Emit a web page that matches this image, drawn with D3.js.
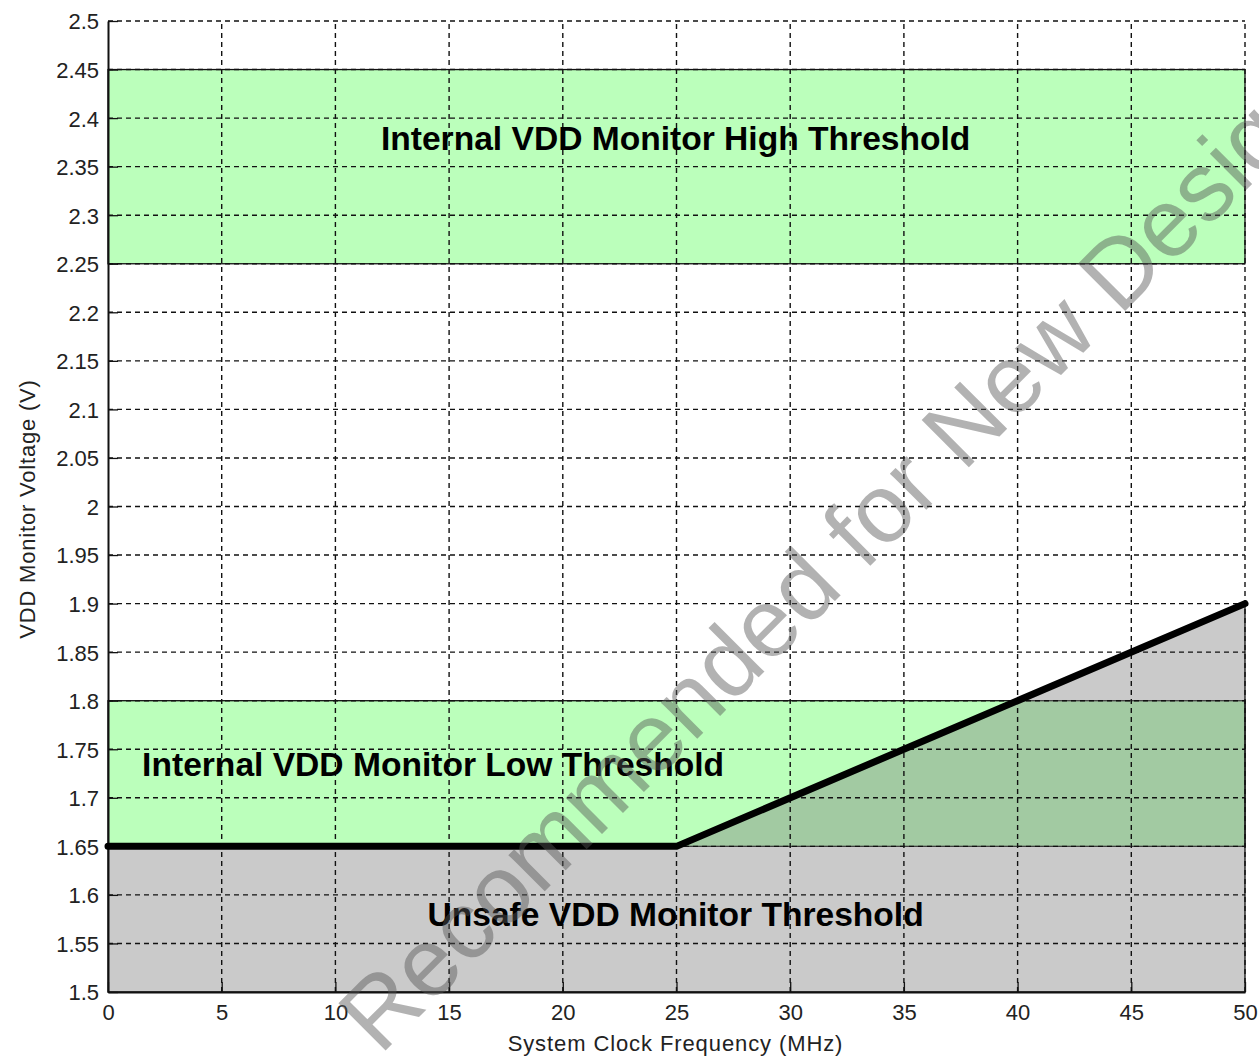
<!DOCTYPE html>
<html>
<head>
<meta charset="utf-8">
<script src="https://cdn.jsdelivr.net/npm/d3@7"></script>
<style>
  html, body { margin: 0; padding: 0; background: #fff; }
  svg { display: block; font-family: "Liberation Sans", Arial, sans-serif; }
</style>
</head>
<body>
<div id="chart"></div>
<script>
'use strict'

// ---- data ----
const xTickValues = [0, 5, 10, 15, 20, 25, 30, 35, 40, 45, 50]
const yTickValues = [1.5, 1.55, 1.6, 1.65, 1.7, 1.75, 1.8, 1.85, 1.9, 1.95, 2, 2.05, 2.1, 2.15, 2.2, 2.25, 2.3, 2.35, 2.4, 2.45, 2.5]
const yTickLabels = ['1.5', '1.55', '1.6', '1.65', '1.7', '1.75', '1.8', '1.85', '1.9', '1.95', '2', '2.05', '2.1', '2.15', '2.2', '2.25', '2.3', '2.35', '2.4', '2.45', '2.5']

// min VDD monitor threshold vs clock
const limitFreq = [0, 25, 50]
const limitVolt = [1.65, 1.65, 1.9]

// green threshold bands
const bandNames = ['Internal VDD Monitor High Threshold', 'Internal VDD Monitor Low Threshold']
const bandLow = [2.25, 1.65]
const bandHigh = [2.45, 1.80]

const unsafeName = 'Unsafe VDD Monitor Threshold'
const watermark = 'Recommended for New Designs'

////////////////////////////////////
//////////// svg setup /////////////
////////////////////////////////////

const svgWidth = 1259
const svgHeight = 1057
const margin = {left: 108, right: 14, top: 21, bottom: 65}

const svg = d3.select('#chart').append('svg')
    .attr('width', svgWidth)
    .attr('height', svgHeight)

const x = d3.scaleLinear().domain([0, 50]).range([margin.left, svgWidth - margin.right])
const y = d3.scaleLinear().domain([1.5, 2.5]).range([svgHeight - margin.bottom, margin.top])

// green bands
svg.selectAll('.band')
    .data(bandNames)
    .enter()
    .append('rect')
    .attr('class', 'band')
    .attr('x', x(0))
    .attr('width', x(50) - x(0))
    .attr('y', (d, i) => y(bandHigh[i]))
    .attr('height', (d, i) => y(bandLow[i]) - y(bandHigh[i]))
    .attr('fill', '#bbffbb')
    .attr('stroke', '#111')
    .attr('stroke-width', 1.3)

// unsafe region under the limit line (translucent grey so the green shows through)
const areaPts = limitFreq.map((f, i) => [f, limitVolt[i]])
const unsafe = d3.area()
    .x(d => x(d[0]))
    .y0(y(1.5))
    .y1(d => y(d[1]))
svg.append('path')
    .attr('d', unsafe(areaPts))
    .attr('fill', '#808080')
    .attr('fill-opacity', 0.42)
    .attr('stroke', '#111')
    .attr('stroke-width', 1.3)

// grid
const grid = svg.append('g').attr('class', 'grid')
grid.selectAll('.vgrid')
    .data(xTickValues.filter(v => v > 0))
    .enter().append('line')
    .attr('x1', d => x(d)).attr('x2', d => x(d))
    .attr('y1', y(1.5)).attr('y2', y(2.5))
    .attr('stroke', '#111').attr('stroke-width', 1.4)
    .attr('stroke-dasharray', '5,4')
grid.selectAll('.hgrid')
    .data(yTickValues.filter(v => v > 1.5))
    .enter().append('line')
    .attr('x1', x(0)).attr('x2', x(50))
    .attr('y1', d => y(d)).attr('y2', d => y(d))
    .attr('stroke', '#111').attr('stroke-width', 1.4)
    .attr('stroke-dasharray', '5,4')

// axes
const xAxis = svg.append('g')
    .attr('transform', `translate(0,${y(1.5)})`)
    .call(d3.axisBottom(x).tickValues(xTickValues).tickSizeInner(-10).tickSizeOuter(0).tickPadding(12))
const yAxis = svg.append('g')
    .attr('transform', `translate(${x(0)},0)`)
    .call(d3.axisLeft(y).tickValues(yTickValues).tickFormat((d, i) => yTickLabels[i]).tickSizeInner(-10).tickSizeOuter(0).tickPadding(9))

;[xAxis, yAxis].forEach(a => {
    a.select('.domain').attr('stroke', '#111').attr('stroke-width', 2)
    a.selectAll('.tick line').attr('stroke', '#111').attr('stroke-width', 1.3)
    a.selectAll('.tick text')
        .attr('fill', '#222')
        .style('font-size', '22px')
        .style('font-family', '"Liberation Sans", Arial, sans-serif')
})
yAxis.selectAll('.tick text').attr('dy', '0.36em')

// axis titles
svg.append('text')
    .attr('x', x(25) - 1)
    .attr('y', 1051)
    .attr('text-anchor', 'middle')
    .attr('fill', '#222')
    .style('font-size', '22px')
    .style('letter-spacing', '0.9px')
    .text('System Clock Frequency (MHz)')

svg.append('text')
    .attr('transform', 'translate(35,509) rotate(-90)')
    .attr('text-anchor', 'middle')
    .attr('fill', '#222')
    .style('font-size', '22px')
    .style('letter-spacing', '0.8px')
    .text('VDD Monitor Voltage (V)')

// region labels
const labelX = [12.0, 1.5]
const labelY = [2.38, 1.735]
svg.selectAll('.band-label')
    .data(bandNames)
    .enter().append('text')
    .attr('class', 'band-label')
    .attr('x', (d, i) => x(labelX[i]))
    .attr('y', (d, i) => y(labelY[i]))
    .attr('dy', '0.36em')
    .attr('fill', '#000')
    .style('font-size', '33.6px')
    .style('font-weight', 'bold')
    .text(d => d)

svg.append('text')
    .attr('x', x(14.05))
    .attr('y', y(1.58))
    .attr('dy', '0.36em')
    .attr('fill', '#000')
    .style('font-size', '33.6px')
    .style('font-weight', 'bold')
    .text(unsafeName)

// limit line
svg.append('path')
    .attr('d', d3.line().x(d => x(d[0])).y(d => y(d[1]))(areaPts))
    .attr('fill', 'none')
    .attr('stroke', '#000')
    .attr('stroke-width', 7)
    .attr('stroke-linecap', 'round')
    .attr('stroke-linejoin', 'round')

// watermark
svg.append('text')
    .attr('transform', 'translate(380,1056) rotate(-45)')
    .attr('fill', '#555')
    .attr('fill-opacity', 0.45)
    .style('font-size', '97px')
    .text(watermark)
</script>
</body>
</html>
